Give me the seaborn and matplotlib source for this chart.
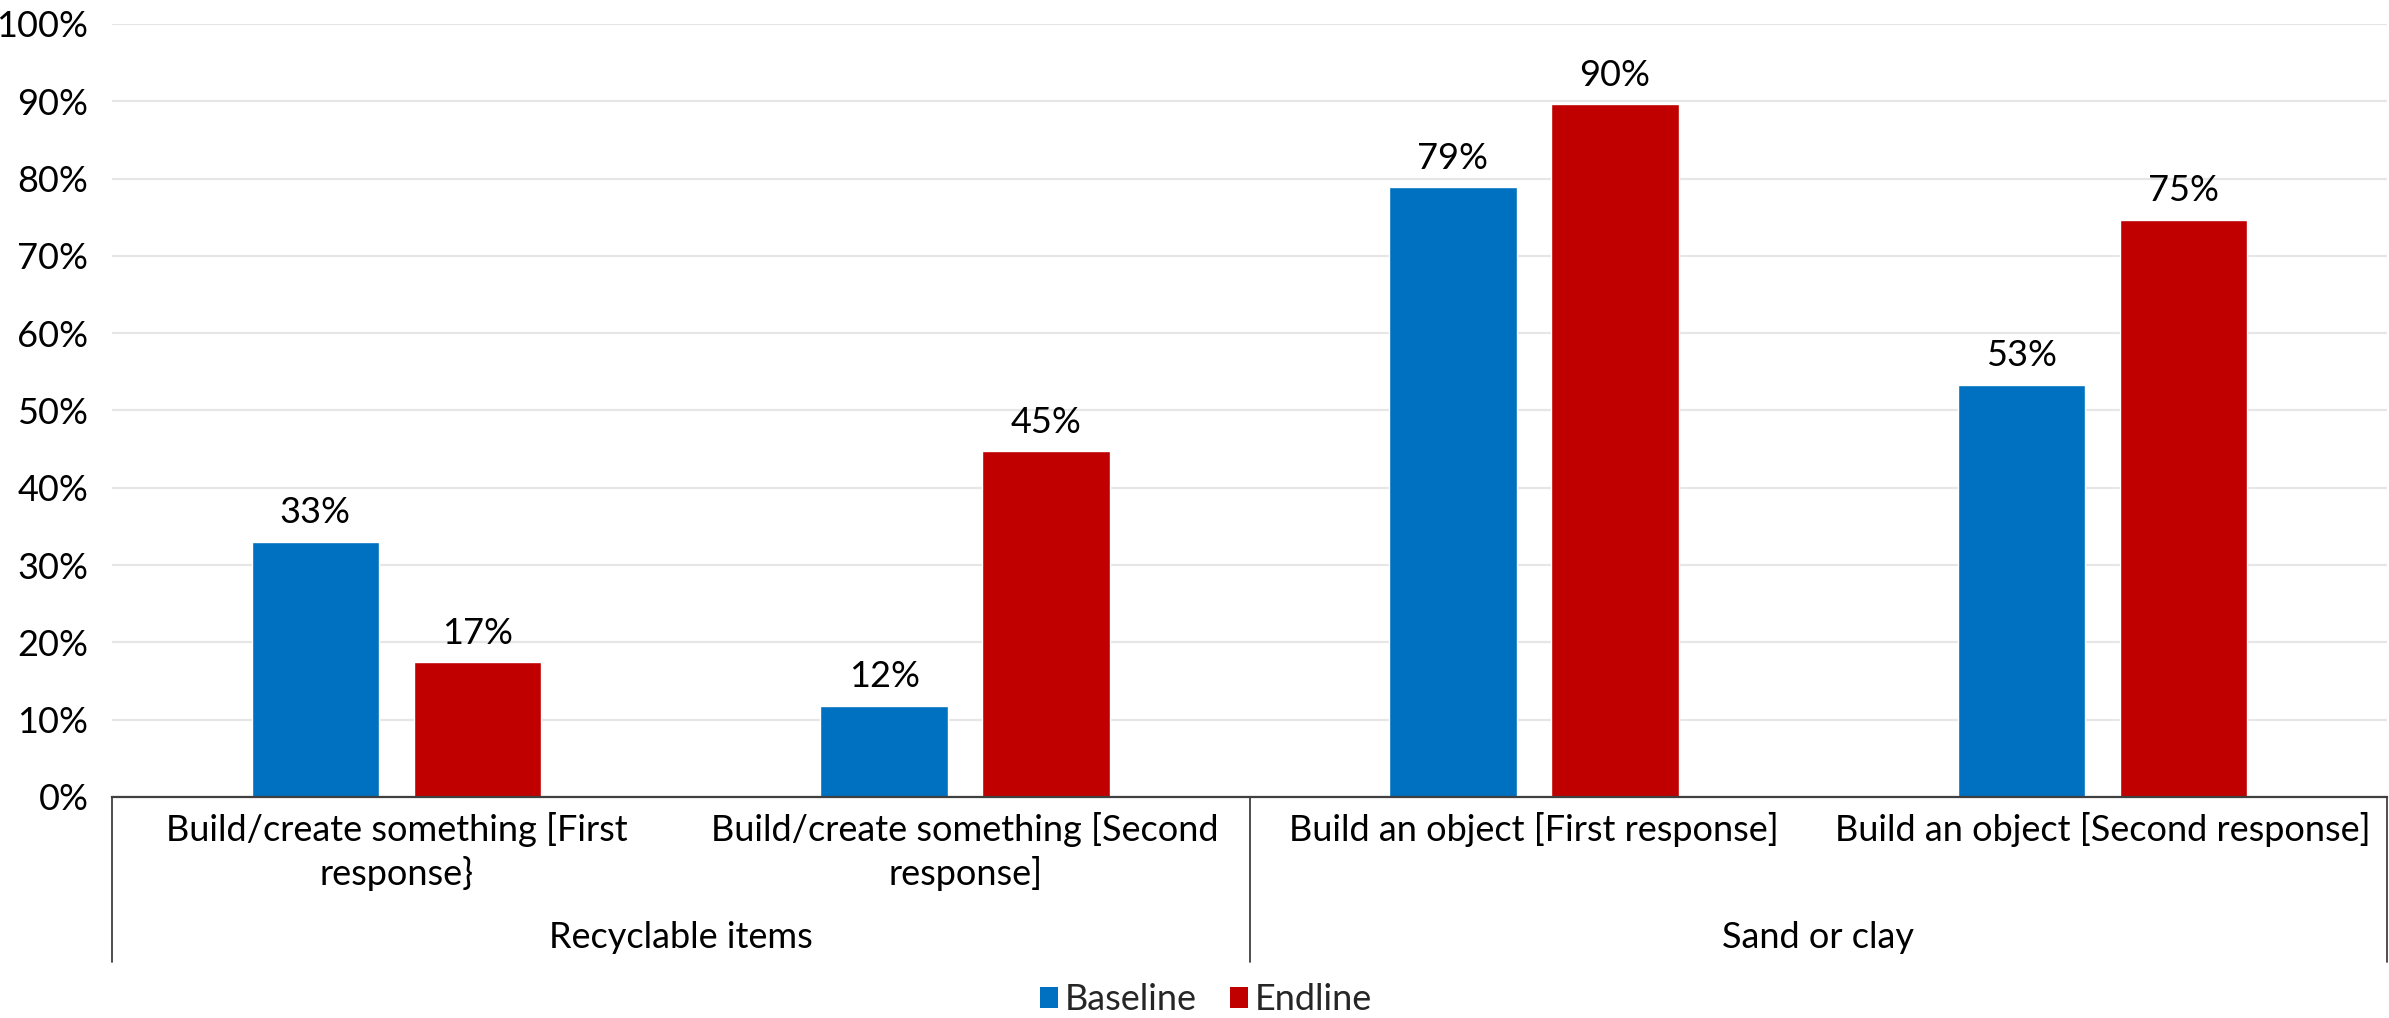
import matplotlib
matplotlib.use("Agg")
import matplotlib.pyplot as plt
import matplotlib.transforms as mtransforms
from matplotlib.lines import Line2D
from matplotlib.patches import Patch
import seaborn as sns
import pandas as pd

# Survey categories (two-level axis) and results per round
groups = ["Recyclable items", "Sand or clay"]
items = [
    "Build/create something [First\nresponse}",
    "Build/create something [Second\nresponse]",
    "Build an object [First response]",
    "Build an object [Second response]",
]
item_group = ["Recyclable items", "Recyclable items", "Sand or clay", "Sand or clay"]
series = ["Baseline", "Endline"]
baseline = [33.0, 11.8, 78.9, 53.3]
endline = [17.4, 44.7, 89.6, 74.7]
yticks = [0, 10, 20, 30, 40, 50, 60, 70, 80, 90, 100]
ytick_labels = [f"{t}%" for t in yticks]
colors = ["#0070C0", "#C00000"]

df = pd.DataFrame({
    "item": items * 2,
    "series": [series[0]] * len(items) + [series[1]] * len(items),
    "value": baseline + endline,
})

sns.set_theme(style="white")
FONT = ["Lato", "DejaVu Sans"]
plt.rcParams["font.family"] = FONT
FS = 26

TOP = 24
fig = plt.figure(figsize=(23.89, 10.18), dpi=100)
ax = fig.add_axes([112 / 2389, 1 - 797 / 1018, (2387 - 112) / 2389, (797 - TOP) / 1018])

sns.barplot(data=df, x="item", y="value", hue="series", order=items,
            hue_order=series, palette=colors, width=0.57, gap=0.214,
            saturation=1, ax=ax, legend=False)

ax.set_ylim(0, 100)
ax.set_xlim(-0.5, len(items) - 0.5)
ax.set_yticks(yticks)
ax.set_yticklabels(ytick_labels)
ax.set_xlabel("")
ax.set_ylabel("")
ax.yaxis.grid(True, color="#E6E6E6", lw=1.6)
ax.set_axisbelow(True)
for s in ["left", "top", "right"]:
    ax.spines[s].set_visible(False)
ax.spines["bottom"].set_color("#404040")
ax.spines["bottom"].set_linewidth(1.6)
ax.tick_params(axis="y", length=0, pad=17, labelsize=FS, labelcolor="black")
ax.tick_params(axis="x", length=0, pad=11, labelsize=FS, labelcolor="black")
for lab in ax.get_xticklabels():
    lab.set_linespacing(1.3)

for cont in ax.containers:
    ax.bar_label(cont, fmt=lambda v: f"{v:.0f}%", padding=9, fontsize=FS, color="black")

# Group level of the category axis: dividers and group names
trans = mtransforms.blended_transform_factory(ax.transData, ax.transAxes)
ax_h = 797 - TOP
line_bottom = -(962 - 797) / ax_h
for xpos in [-0.5, 1.5, len(items) - 0.5]:
    ax.add_line(Line2D([xpos, xpos], [0, line_bottom], transform=trans,
                       color="#404040", lw=1.3, clip_on=False))
for g in groups:
    idx = [i for i, ig in enumerate(item_group) if ig == g]
    ax.text(sum(idx) / len(idx), -(938 - 797) / ax_h, g, transform=trans,
            ha="center", va="center", fontsize=FS, color="black")

handles = [Patch(facecolor=c, edgecolor="none") for c in colors]
fig.legend(handles, series, loc="center", bbox_to_anchor=(1206 / 2389, 0.018),
           ncol=2, frameon=False, fontsize=FS, handlelength=0.5,
           handleheight=0.5, handletextpad=0.2, columnspacing=0.9)

fig.savefig("out.png", dpi=100, facecolor="white")
